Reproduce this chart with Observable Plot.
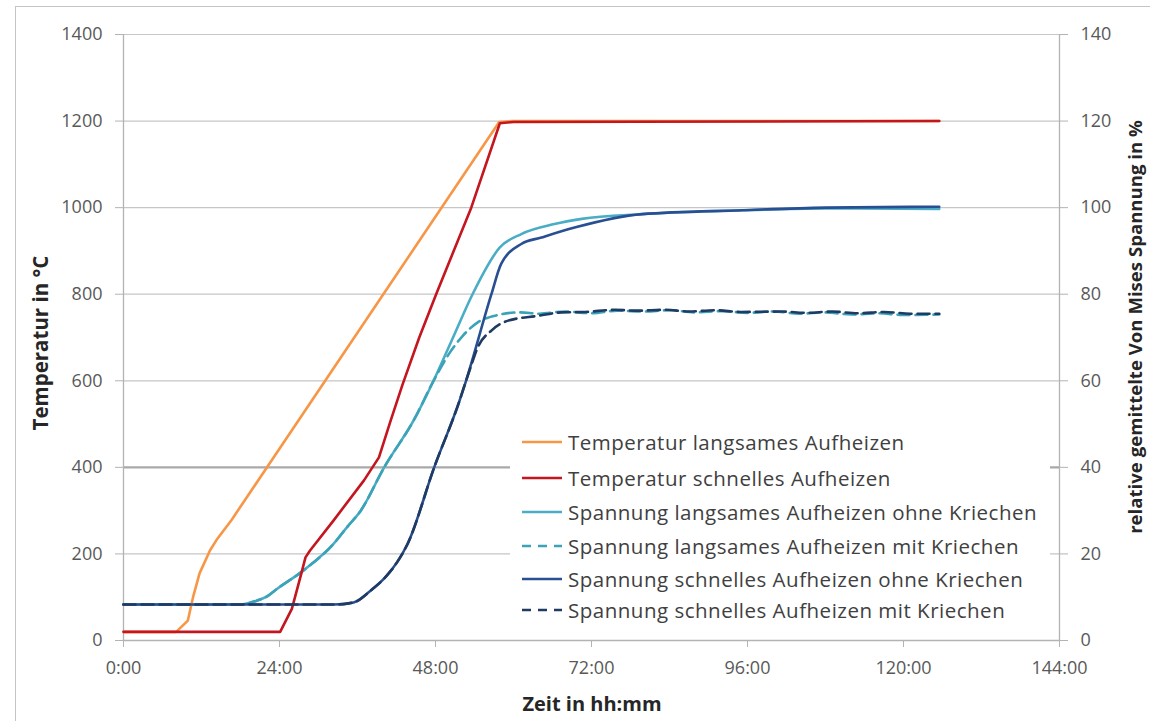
<!DOCTYPE html>
<html>
<head>
<meta charset="utf-8">
<script src="https://cdn.jsdelivr.net/npm/d3@7"></script>
<script src="https://cdn.jsdelivr.net/npm/@observablehq/plot@0.6"></script>
<style>
  html, body { margin: 0; padding: 0; background: #ffffff; overflow: hidden; }
  #wrap { position: relative; width: 1150px; height: 721px; overflow: hidden; font-family: "Open Sans", sans-serif; }
  #frame { position: absolute; left: 15px; top: 6px; width: 1300px; height: 900px; border-left: 1px solid #c4c4c4; border-top: 1px solid #c4c4c4; }
  #chart { position: absolute; left: 0; top: 0; }
  .title { position: absolute; font-weight: 700; color: #262626; white-space: nowrap; }
  #ytitle { left: 40px; top: 343px; font-size: 20.5px; transform: translate(-50%, -50%) rotate(-90deg); }
  #y2title { left: 1134px; top: 327px; font-size: 18.6px; transform: translate(-50%, -50%) rotate(-90deg); }
  #xtitle { left: 592px; top: 703px; font-size: 20px; transform: translate(-50%, -50%); }
  #legend { position: absolute; left: 510px; top: 425px; width: 540px; height: 210px; background: #ffffff; }
  .item { position: absolute; left: 12px; height: 26px; display: flex; align-items: center; font-size: 20.5px; letter-spacing: 0.5px; color: #404040; white-space: nowrap; }
  .item svg { margin-right: 4px; }
</style>
</head>
<body>
<div id="wrap">
  <div id="frame"></div>
  <div id="chart"></div>
  <div id="legend"></div>
  <div class="title" id="ytitle">Temperatur in °C</div>
  <div class="title" id="y2title">relative gemittelte Von Mises Spannung in %</div>
  <div class="title" id="xtitle">Zeit in hh:mm</div>
</div>
<script>
// ---------- data (time in hours) ----------
const tempTicks = [0, 200, 400, 600, 800, 1000, 1200, 1400];
const stressTicks = [0, 20, 40, 60, 80, 100, 120, 140];
const timeTicks = [0, 24, 48, 72, 96, 120, 144];
const timeTickLabels = ["0:00", "24:00", "48:00", "72:00", "96:00", "120:00", "144:00"];

const seriesNames = [
  "Temperatur langsames Aufheizen",
  "Temperatur schnelles Aufheizen",
  "Spannung langsames Aufheizen ohne Kriechen",
  "Spannung langsames Aufheizen mit Kriechen",
  "Spannung schnelles Aufheizen ohne Kriechen",
  "Spannung schnelles Aufheizen mit Kriechen"
];

// Temperatur langsames Aufheizen  [h, °C]
const tempSlow = [[0,20],[8.1,20],[9.9,46],[10.7,100],[11.7,155],[13.3,208],[14.3,232],[16.6,278],[57.8,1198],[60,1200],[125.5,1200]];
// Temperatur schnelles Aufheizen  [h, °C]
const tempFast = [[0,20],[24.1,20],[25.9,73],[27.2,146],[28.0,192],[28.7,208],[32.3,277],[37.0,370],[39.3,423],[41.1,508],[42.9,590],[45.5,700],[48.1,800],[53.5,1000],[57.9,1195],[60,1198],[125.5,1200]];
// Spannung langsames Aufheizen ohne Kriechen  [h, %]
const stressSlow = [[0,8.3],[17.9,8.3],[20.5,9.2],[22.1,10.2],[23.6,11.9],[27.7,16.2],[32.3,22.3],[34.4,26.2],[36.5,30],[40.1,40],[44.7,51],[47.7,60],[50.7,70],[53.7,80],[57.9,90.8],[61.2,93.9],[66.3,96.2],[70.5,97.4],[79.8,98.5],[95.2,99.4],[108,99.8],[125.5,99.7]];
// Spannung langsames Aufheizen mit Kriechen  [h, %]
const stressSlowCreep = [[0,8.3],[17.9,8.3],[20.5,9.2],[22.1,10.2],[23.6,11.9],[27.7,16.2],[32.3,22.3],[34.4,26.2],[36.5,30],[40.1,40],[44.7,51],[47.7,60],[50.2,66.5],[52.2,70.4],[54.5,73.5],[57.6,75.2],[61,75.8],[64,75.5],[68,76.0],[72,75.6],[76,76.2],[80,76.0],[84,76.3],[88,75.8],[92,76.1],[96,75.7],[100,76.0],[104,75.5],[108,75.8],[112,75.3],[116,75.6],[120,75.2],[125.5,75.3]];
// Spannung schnelles Aufheizen ohne Kriechen  [h, %]
const stressFast = [[0,8.3],[32.3,8.3],[35.4,8.8],[38.0,11.5],[40.4,14.8],[42.1,18.1],[43.7,22.3],[47.8,40],[51.7,55.4],[52.7,60],[56.6,80],[58.1,87],[61.2,91.6],[64.3,93.1],[69.4,95.4],[79.8,98.5],[95.2,99.4],[108,100],[125.5,100.2]];
// Spannung schnelles Aufheizen mit Kriechen  [h, %]
const stressFastCreep = [[0,8.3],[32.3,8.3],[35.4,8.8],[38.0,11.5],[40.4,14.8],[42.1,18.1],[43.7,22.3],[47.8,40],[51.7,55.4],[52.7,60],[53.6,64],[54.5,67.7],[56.6,71.6],[59.2,73.9],[63.8,75.0],[67.4,75.8],[71,75.9],[75.6,76.4],[79,76.2],[83.3,76.4],[87,76.0],[91,76.3],[95,75.9],[101.4,76.0],[105,75.7],[109,76.0],[113,75.6],[117,75.9],[121,75.5],[125.5,75.5]];

const colors = ["#F79646", "#C3161F", "#4BACC6", "#3AA3B8", "#284F92", "#1F3A63"];
const dashes = [null, null, null, "12,6", null, "12,6"];
const curves = ["linear", "linear", "monotone-x", "monotone-x", "monotone-x", "monotone-x"];

// ---------- table for Plot (stress plotted on the temperature scale via ×10) ----------
const rows = [];
function add(arr, idx, factor) { arr.forEach(([h, v]) => rows.push({h, v, y: v * factor, s: seriesNames[idx]})); }
add(tempSlow, 0, 1); add(tempFast, 1, 1);
add(stressSlow, 2, 10); add(stressSlowCreep, 3, 10);
add(stressFast, 4, 10); add(stressFastCreep, 5, 10);

const lineMarks = [2, 3, 0, 1, 4, 5].map(i => Plot.line(rows.filter(r => r.s === seriesNames[i]), {
  x: "h", y: "y", stroke: colors[i], strokeWidth: 2.6, strokeDasharray: dashes[i] || undefined,
  curve: curves[i], strokeLinejoin: "round"
}));

const chart = Plot.plot({
  width: 1150,
  height: 721,
  marginLeft: 123,
  marginRight: 91,
  marginTop: 34,
  marginBottom: 81,
  style: { fontFamily: "'Open Sans', sans-serif", fontSize: "18px", color: "#595959", background: "transparent" },
  x: { domain: [0, 144] },
  y: { domain: [0, 1400] },
  marks: [
    Plot.ruleY(tempTicks.filter(t => t > 0 && t !== 400), { stroke: "#c6c6c6", strokeWidth: 1.2 }),
    Plot.ruleY([400], { stroke: "#a9a9a9", strokeWidth: 2.2 }),
    Plot.ruleY([0], { stroke: "#b3b3b3", strokeWidth: 1.3 }),
    Plot.ruleX([0, 144], { stroke: "#b3b3b3", strokeWidth: 1.3 }),
    Plot.axisY({ anchor: "left", ticks: tempTicks, tickFormat: d => String(d), tickSize: 8, tickPadding: 13, stroke: "#b3b3b3", label: null, fill: "#595959" }),
    Plot.axisY({ anchor: "right", ticks: stressTicks.map(s => s * 10), tickFormat: (d, i) => String(stressTicks[i]), tickSize: 8, tickPadding: 13, stroke: "#b3b3b3", label: null, fill: "#595959" }),
    Plot.axisX({ ticks: timeTicks, tickFormat: (d, i) => timeTickLabels[i], tickSize: 7, tickPadding: 14, stroke: "#b3b3b3", label: null, fill: "#595959" }),
    ...lineMarks
  ]
});
document.getElementById("chart").appendChild(chart);

// ---------- legend ----------
const legend = document.getElementById("legend");
const rowTops = [4, 40, 74, 108, 141, 172];
seriesNames.forEach((name, i) => {
  const item = document.createElement("div");
  item.className = "item";
  item.style.top = rowTops[i] + "px";
  const dash = dashes[i] ? `stroke-dasharray="9,7"` : "";
  item.innerHTML = `<svg width="42" height="10"><line x1="0" y1="5" x2="40" y2="5" stroke="${colors[i]}" stroke-width="2.6" ${dash}/></svg><span>${name}</span>`;
  legend.appendChild(item);
});
</script>
</body>
</html>
